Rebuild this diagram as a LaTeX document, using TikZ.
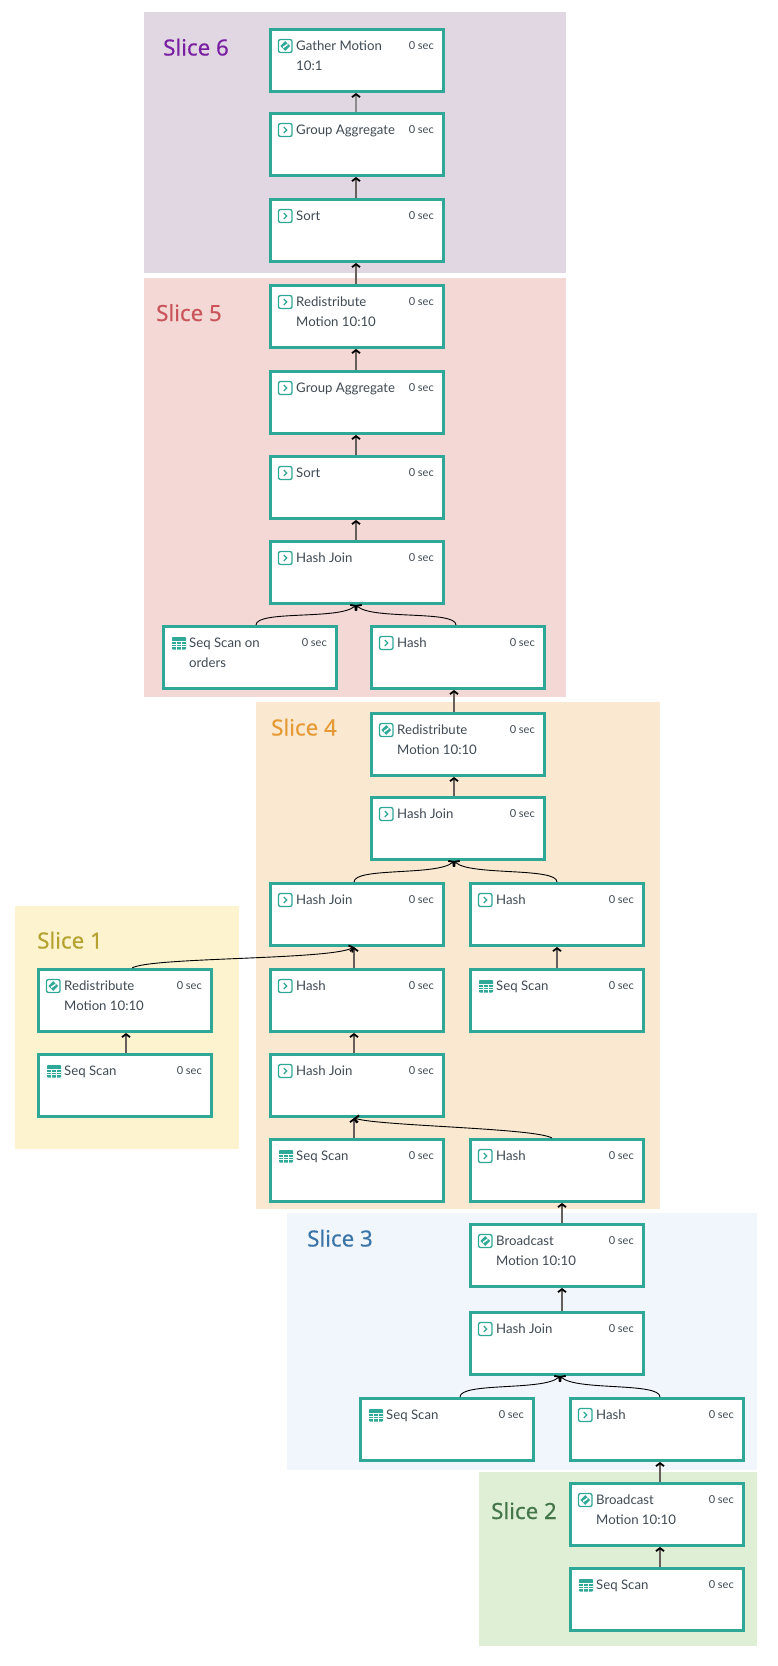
\documentclass[tikz,border=0pt]{standalone}
\usepackage{fontspec}
\setmainfont{Lato}
\newfontfamily\slicefont[FakeBold=0.45]{Noto Sans}
\usetikzlibrary{positioning, arrows.meta}

\definecolor{stepteal}{HTML}{2FA897}
\definecolor{steptext}{HTML}{3F4A54}
\definecolor{stemgray}{HTML}{665F5C}

\tikzset{
  stepbox/.style={draw=stepteal, fill=white, line width=3.4pt, minimum width=172.6pt, minimum height=61.6pt, inner sep=0pt},
  steptitle/.style={anchor=north west, inner sep=0pt, align=left, text=steptext, font=\fontsize{13.2}{20}\selectfont},
  steptime/.style={anchor=base east, inner sep=0pt, text=steptext, font=\fontsize{11}{14}\selectfont},
  slicename/.style={anchor=base west, inner sep=0pt, font=\slicefont\fontsize{22.3}{26}\selectfont},
  flow/.style={draw=stemgray, line width=1.5pt, -{Straight Barb[length=3pt,width=8pt,line width=1.8pt,color=black]}},
  merge/.style={draw=black, line width=0.9pt, -{Straight Barb[length=3pt,width=8pt,line width=1.8pt,color=black]}},
  iconline/.style={draw=stepteal, line width=1.3pt, rounded corners=2pt}
}

% icons are drawn from the corner of the box
\newcommand{\iconnext}[1]{
  \begin{scope}[shift={(#1.north west)}]
    \draw[iconline] (9.5,11.5) rectangle (23,24.5);
    \draw[stepteal, line width=1.2pt] (14.8,15) -- (17.8,18) -- (14.8,21);
  \end{scope}
}
\newcommand{\iconmotion}[1]{
  \begin{scope}[shift={(#1.north west)}]
    \draw[iconline] (9.5,11.5) rectangle (23,24.5);
    \fill[stepteal] (16.25,13.1) -- (21.2,18) -- (16.25,22.9) -- (11.3,18) -- cycle;
    \draw[white, line width=0.8pt] (13.9,19.2) -- (17,17) -- (15.5,18.9) -- (18.6,16.7);
  \end{scope}
}
\newcommand{\icontable}[1]{
  \begin{scope}[shift={(#1.north west)}]
    \fill[stepteal, rounded corners=0.8pt] (10,12) rectangle (24,24.5);
    \draw[white, line width=0.45pt] (14.7,15.8) -- (14.7,24.5) (19.3,15.8) -- (19.3,24.5)
      (10,15.8) -- (24,15.8) (10,18.8) -- (24,18.8) (10,21.7) -- (24,21.7);
  \end{scope}
}
\newcommand{\planstep}[4]{
  \node[stepbox] (#1) at (#2) {};
  \node[steptitle] (#1title) at ([shift={(27,8)}]#1.north west) {\strut #4};
  \node[steptime] (#1time) at ([shift={(-11,21.5)}]#1.north east) {0 sec};
  #3{#1}
}

\begin{document}
\begin{tikzpicture}[x=1pt, y=-1pt]
\useasboundingbox (0,0) rectangle (777,1666);

\fill[fill={rgb,255:red,225;green,215;blue,227}] (144,12) rectangle (566,273);
\fill[fill={rgb,255:red,244;green,216;blue,214}] (144,278) rectangle (566,697);
\fill[fill={rgb,255:red,250;green,233;blue,208}] (256,702) rectangle (660,1209);
\fill[fill={rgb,255:red,253;green,243;blue,207}] (15,906) rectangle (239,1149);
\fill[fill={rgb,255:red,241;green,246;blue,252}] (287,1213) rectangle (757,1470);
\fill[fill={rgb,255:red,223;green,239;blue,214}] (479,1472) rectangle (757,1646);

\node[slicename, text={rgb,255:red,122;green,31;blue,162}] (slicesix) at (163,55.5) {Slice 6};
\node[slicename, text={rgb,255:red,201;green,85;blue,90}] (slicefive) at (156,321) {Slice 5};
\node[slicename, text={rgb,255:red,230;green,154;blue,53}] (slicefour) at (271,735.5) {Slice 4};
\node[slicename, text={rgb,255:red,181;green,162;blue,48}] (sliceone) at (37,948.5) {Slice 1};
\node[slicename, text={rgb,255:red,59;green,117;blue,168}] (slicethree) at (307,1246.5) {Slice 3};
\node[slicename, text={rgb,255:red,68;green,118;blue,74}] (slicetwo) at (491,1519) {Slice 2};

\planstep{gather}{357,60.5}{\iconmotion}{Gather Motion\\10:1}
\planstep{groupsix}{357,144.5}{\iconnext}{Group Aggregate}
\planstep{sortsix}{357,230.5}{\iconnext}{Sort}

\planstep{redistfive}{357,316.5}{\iconnext}{Redistribute\\Motion 10:10}
\planstep{groupfive}{357,402.5}{\iconnext}{Group Aggregate}
\planstep{sortfive}{357,487.5}{\iconnext}{Sort}
\planstep{joinfive}{357,572.5}{\iconnext}{Hash Join}
\planstep{orders}{250,657.5}{\icontable}{Seq Scan on\\orders}
\planstep{hashfive}{458,657.5}{\iconnext}{Hash}

\planstep{redistfour}{458,744.5}{\iconmotion}{Redistribute\\Motion 10:10}
\planstep{joinfour}{458,828.5}{\iconnext}{Hash Join}
\planstep{joinupper}{357,914.5}{\iconnext}{Hash Join}
\planstep{hashright}{557,914.5}{\iconnext}{Hash}
\planstep{hashmid}{357,1000.5}{\iconnext}{Hash}
\planstep{scanright}{557,1000.5}{\icontable}{Seq Scan}
\planstep{joinlower}{357,1085.5}{\iconnext}{Hash Join}
\planstep{scanlower}{357,1170.5}{\icontable}{Seq Scan}
\planstep{hashlower}{557,1170.5}{\iconnext}{Hash}

\planstep{redistone}{125,1000.5}{\iconmotion}{Redistribute\\Motion 10:10}
\planstep{scanone}{125,1085.5}{\icontable}{Seq Scan}

\planstep{castthree}{557,1255.5}{\iconmotion}{Broadcast\\Motion 10:10}
\planstep{jointhree}{557,1343.5}{\iconnext}{Hash Join}
\planstep{scanthree}{447,1429.5}{\icontable}{Seq Scan}
\planstep{hashthree}{657,1429.5}{\iconnext}{Hash}

\planstep{casttwo}{657,1514.5}{\iconmotion}{Broadcast\\Motion 10:10}
\planstep{scantwo}{657,1599.5}{\icontable}{Seq Scan}

\draw[flow, draw=black!45] ([xshift=-1pt]groupsix.north) -- ([xshift=-1pt]gather.south);
\draw[flow] ([xshift=-1pt]sortsix.north) -- ([xshift=-1pt]groupsix.south);
\draw[flow] ([xshift=-1pt]redistfive.north) -- ([xshift=-1pt]sortsix.south);
\draw[flow] ([xshift=-1pt]groupfive.north) -- ([xshift=-1pt]redistfive.south);
\draw[flow] ([xshift=-1pt]sortfive.north) -- ([xshift=-1pt]groupfive.south);
\draw[flow] ([xshift=-1pt]joinfive.north) -- ([xshift=-1pt]sortfive.south);
\draw[merge] ([xshift=6pt]orders.north) .. controls +(0,-15) and +(-16,15) .. ([xshift=-1pt]joinfive.south);
\draw[merge] ([xshift=-2pt]hashfive.north) .. controls +(0,-15) and +(16,15) .. ([xshift=-1pt]joinfive.south);
\draw[flow] ([xshift=-4pt]redistfour.north) -- ([xshift=-4pt]hashfive.south);
\draw[flow] ([xshift=-4pt]joinfour.north) -- ([xshift=-4pt]redistfour.south);
\draw[merge] ([xshift=-3pt]joinupper.north) .. controls +(0,-15) and +(-16,15) .. ([xshift=-4pt]joinfour.south);
\draw[merge] (hashright.north) .. controls +(0,-15) and +(16,15) .. ([xshift=-4pt]joinfour.south);
\draw[flow] (scanright.north) -- (hashright.south);
\draw[flow] ([xshift=-3pt]hashmid.north) -- ([xshift=-3pt]joinupper.south);
\draw[merge] ([xshift=7pt]redistone.north) .. controls +(18,-11) and +(-24,13) .. ([xshift=-3pt]joinupper.south);
\draw[flow] ([xshift=-3pt]joinlower.north) -- ([xshift=-3pt]hashmid.south);
\draw[flow] ([xshift=-3pt]scanlower.north) -- ([xshift=-3pt]joinlower.south);
\draw[merge] ([xshift=-5pt]hashlower.north) .. controls +(-17,-10) and +(26,8) .. ([xshift=-3pt]joinlower.south);
\draw[flow] ([xshift=1pt]scanone.north) -- ([xshift=1pt]redistone.south);
\draw[flow] ([xshift=5pt]castthree.north) -- ([xshift=5pt]hashlower.south);
\draw[flow] ([xshift=5pt]jointhree.north) -- ([xshift=5pt]castthree.south);
\draw[merge] ([xshift=13pt]scanthree.north) .. controls +(0,-15) and +(-16,15) .. ([xshift=3pt]jointhree.south);
\draw[merge] ([xshift=3pt]hashthree.north) .. controls +(0,-15) and +(16,15) .. ([xshift=3pt]jointhree.south);
\draw[flow] ([xshift=3pt]casttwo.north) -- ([xshift=3pt]hashthree.south);
\draw[flow] ([xshift=3pt]scantwo.north) -- ([xshift=3pt]casttwo.south);
\end{tikzpicture}
\end{document}
